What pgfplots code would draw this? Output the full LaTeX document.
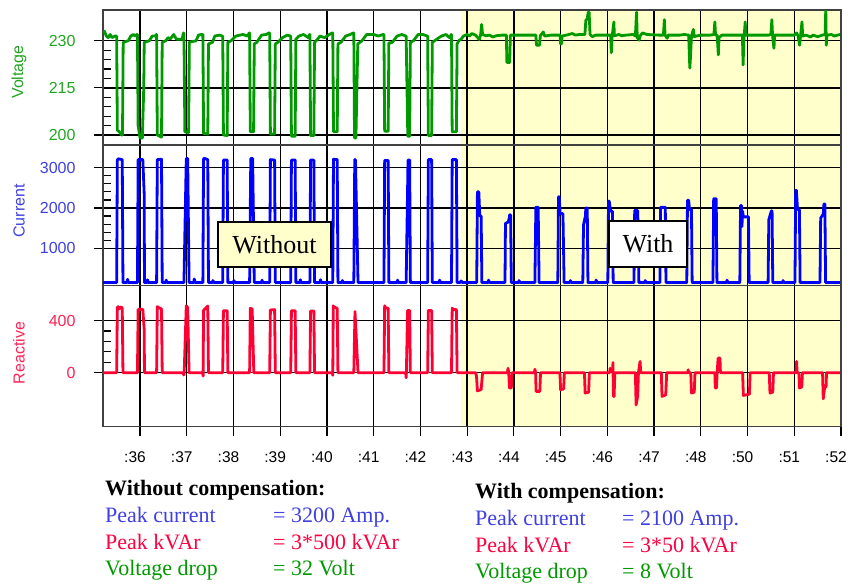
\documentclass[border=0pt]{standalone}
\usepackage{pgfplots}
\pgfplotsset{compat=1.18}
\usepackage{fontspec}
\setmainfont{Liberation Serif}
\newfontfamily\arial{Liberation Sans}
\definecolor{vgreen}{RGB}{0,153,0}
\definecolor{vlabel}{RGB}{34,165,34}
\definecolor{cblue}{RGB}{0,0,255}
\definecolor{clabel}{RGB}{64,64,224}
\definecolor{rred}{RGB}{255,0,51}
\definecolor{rlabel}{RGB}{255,34,85}
\definecolor{byellow}{RGB}{255,255,204}
\definecolor{tblue}{RGB}{64,64,224}
\definecolor{tred}{RGB}{255,0,64}
\definecolor{tgreen}{RGB}{0,153,0}
\pgfplotsset{
  panel/.style={
    scale only axis, width=738bp, xmin=35.208, xmax=51.0,
    xtick={36,...,51}, grid=major,
    major grid style={black, line width=1.3bp},
    axis line style={draw=black!75, line width=1.5bp},
    tick align=outside, major tick length=9bp, minor tick length=8bp,
    tick style={black, line width=1.2bp},
    minor tick style={xshift=8bp},
    ytick pos=left, xtick pos=bottom,
    set layers, anchor=north west,
    yticklabel style={font=\arial\fontsize{16bp}{18bp}\selectfont, xshift=-15bp},
    xticklabel style={font=\arial\fontsize{15.5bp}{18bp}\selectfont, yshift=-13bp, xshift=-5bp},
    /pgf/number format/assume math mode=true,
    /pgf/number format/1000 sep={},
    scaled y ticks=false,
  },
  sig/.style={line width=2.8bp, line join=round},
}
\begin{document}
\begin{tikzpicture}[x=1bp,y=1bp]

% Voltage
\begin{axis}[panel, at={(103bp,-10bp)}, height=135bp,
  ymin=196.8, ymax=239.8, ytick={200,215,230}, minor y tick num=4,
  xticklabels={}, xtick style={draw=none},
  yticklabel style={text=vlabel}]
\addplot[fill=byellow, draw=none, on layer=axis background] coordinates {(42.87,196.8) (51,196.8) (51,239.8) (42.87,239.8) (42.87,196.8)};
\addplot[sig, vgreen] coordinates {
(35.21,232.5)(35.24,233)(35.28,231.5)(35.32,231)(35.36,232)(35.40,231)(35.46,231.5)
(35.50,231.5)(35.515,201.5)(35.56,201)(35.60,200)(35.625,200)(35.64,229.5)
(35.70,229.8)(35.75,230)(35.80,231.5)(35.86,232)(35.90,231.5)(35.935,232)
(35.945,232)(35.96,203)(36.0,199)(36.05,199)(36.08,215)(36.09,229.5)
(36.20,230)(36.26,231.5)(36.33,231.5)(36.35,232)
(36.355,232)(36.37,200)(36.46,199.3)(36.475,229.5)
(36.55,230)(36.60,231)(36.65,230.6)(36.72,232)(36.78,230.5)(36.90,230.5)(36.93,232.5)
(36.94,232.5)(36.96,201)(37.04,200.8)(37.055,229.5)
(37.10,229.7)(37.20,230)(37.25,231.8)(37.32,232)
(37.345,232)(37.36,200.5)(37.45,200.3)(37.465,229)
(37.55,229.5)(37.60,231.5)(37.70,231.8)(37.76,231.5)
(37.77,231.5)(37.785,200)(37.865,199.8)(37.88,229.5)
(37.95,230)(38.05,231.5)(38.20,232)(38.30,231.5)(38.34,232.5)
(38.345,232.5)(38.36,201)(38.43,201)(38.445,229)
(38.50,229.5)(38.60,231.8)(38.70,232)(38.76,232.5)
(38.775,232.5)(38.79,200.3)(38.88,200.3)(38.895,229)
(38.95,229.5)(39.05,231)(39.15,231.8)(39.22,231.5)
(39.225,231.5)(39.24,199.6)(39.32,199.6)(39.335,230.5)
(39.40,231.5)(39.50,232)(39.60,231)(39.63,232)
(39.635,232)(39.65,199.8)(39.72,199.8)(39.735,229.5)
(39.80,230.5)(39.85,231.5)(39.95,231)(40.05,232)(40.12,232.5)
(40.125,232.5)(40.14,201)(40.22,201)(40.235,229)
(40.30,229.5)(40.40,231.5)(40.50,232)(40.57,232.5)
(40.575,232.5)(40.59,199)(40.62,199)(40.66,229)
(40.75,230)(40.85,232)(41.00,232)(41.10,231.5)(41.20,232)
(41.22,232)(41.235,201.2)(41.31,201.2)(41.325,229.3)
(41.40,229.5)(41.50,231.5)(41.60,232)(41.69,231.5)
(41.695,231.5)(41.73,199.6)(41.77,199.6)(41.785,229.5)
(41.85,230)(41.95,232)(42.05,232)(42.15,231.5)
(42.155,231.5)(42.17,199.8)(42.24,199.8)(42.255,229.5)
(42.35,230.5)(42.45,231.5)(42.55,232)(42.62,231)(42.66,232)
(42.665,232)(42.68,201)(42.77,201)(42.785,229)
(42.82,230)(42.87,230.5)(42.92,231.5)(43.00,232)(43.05,231.5)(43.10,232.3)(43.18,231.8)
(43.26,230.4)(43.29,232)(43.31,235.2)(43.33,232)(43.40,231.6)(43.48,231.8)(43.55,231.2)(43.62,231.6)(43.75,231.8)(43.84,231.8)
(43.85,223.1)(43.91,223.1)(43.925,231.8)(44.1,231.8)(44.3,231.8)(44.47,231.8)
(44.485,228.6)(44.55,228.6)(44.565,231.6)(44.63,232.8)(44.66,231.5)(44.80,231.8)(44.99,231.8)
(45.00,229)(45.02,229)(45.03,231.5)(45.15,231.9)(45.25,232.3)(45.32,231.8)(45.40,232)(45.52,232)
(45.54,236.5)(45.57,237)(45.59,239.1)(45.61,239.1)(45.63,232)(45.68,231.3)(45.75,231.8)(46.00,231.8)(46.07,231.8)
(46.085,226.2)(46.10,231)(46.14,236)(46.15,231.6)(46.25,232)(46.30,231.6)(46.40,231.8)(46.55,232)(46.60,231.5)
(46.625,239.1)(46.64,231)(46.68,230.2)(46.70,231.5)(46.75,232.5)(46.85,232)(47.10,231.8)(47.20,231.8)
(47.22,236.7)(47.235,231.8)(47.28,230.8)(47.30,231.8)(47.55,231.8)(47.65,232)(47.74,231.8)
(47.765,221.3)(47.78,225)(47.80,231.5)(47.84,233.6)(47.86,231.3)(47.90,231.5)(48.00,231.8)(48.20,231.8)(48.28,232)
(48.30,236)(48.315,231.8)(48.35,231.8)(48.375,225.5)(48.39,231)(48.45,231.8)(48.80,231.8)(48.89,231.8)
(48.905,222.3)(48.92,230)(48.95,236)(48.965,231.8)(49.05,231.8)(49.45,231.8)(49.50,232)
(49.52,236.7)(49.535,231.8)(49.565,227.6)(49.58,231.8)(49.80,231.8)(50.00,231.8)(50.05,232.5)(50.08,231.6)
(50.115,228.6)(50.13,231)(50.165,236)(50.18,231.5)(50.25,231.8)(50.35,231.2)(50.40,231.8)(50.50,231.3)(50.60,231.8)(50.66,232)
(50.674,240.2)(50.685,228.6)(50.70,231.8)(50.80,232)(50.85,231.5)(50.98,232)
};
\end{axis}

% Current
\begin{axis}[panel, at={(103bp,-145bp)}, height=140.7bp,
  ymin=72, ymax=3563, ytick={1000,2000,3000}, minor y tick num=4,
  xticklabels={}, xtick style={draw=none},
  yticklabel style={text=clabel}]
\addplot[fill=byellow, draw=none, on layer=axis background] coordinates {(42.87,72) (51,72) (51,3563) (42.87,3563) (42.87,72)};
\addplot[sig, cblue] coordinates {
(35.21,150)(35.50,150)(35.515,3180)(35.53,3220)(35.62,3200)(35.635,150)
(35.72,150)(35.735,230)(35.75,150)
(35.945,150)(35.96,3200)(36.06,3200)(36.09,2330)(36.095,150)
(36.15,150)(36.16,220)(36.18,150)
(36.355,150)(36.37,3200)(36.46,3210)(36.475,150)
(36.55,150)(36.56,210)(36.58,150)
(36.94,150)(36.99,3230)(37.02,3230)(37.05,150)
(37.15,150)(37.16,240)(37.18,150)
(37.345,150)(37.36,3220)(37.38,3230)(37.45,3200)(37.465,150)
(37.55,150)(37.56,200)(37.58,150)
(37.77,150)(37.785,3190)(37.865,3190)(37.88,150)
(38.0,150)(38.01,200)(38.03,150)
(38.345,150)(38.37,3230)(38.41,3230)(38.445,150)
(38.60,150)(38.61,210)(38.63,150)
(38.775,150)(38.79,3200)(38.88,3190)(38.895,150)
(39.225,150)(39.24,3190)(39.32,3190)(39.335,150)
(39.42,150)(39.43,220)(39.45,150)
(39.635,150)(39.65,3190)(39.72,3190)(39.735,150)
(39.85,150)(39.86,220)(39.88,150)
(40.125,150)(40.14,3210)(40.22,3200)(40.235,150)
(40.32,150)(40.33,200)(40.35,150)
(40.575,150)(40.595,3200)(40.61,3200)(40.665,150)
(41.22,150)(41.235,3180)(41.31,3180)(41.325,150)
(41.50,150)(41.51,210)(41.53,150)
(41.695,150)(41.735,3190)(41.77,3190)(41.785,150)
(42.155,150)(42.17,3200)(42.24,3200)(42.255,150)
(42.40,150)(42.41,210)(42.43,150)
(42.665,150)(42.68,3200)(42.77,3200)(42.785,150)
(42.85,150)(42.87,190)(42.90,150)
(43.205,150)(43.22,2400)(43.25,2400)(43.27,1800)(43.30,1800)(43.315,150)
(43.45,150)(43.46,210)(43.48,150)
(43.81,150)(43.82,1620)(43.88,1650)(43.90,1750)(43.91,1830)(43.93,1830)(43.945,150)
(44.10,150)(44.11,200)(44.13,150)
(44.45,150)(44.47,2020)(44.52,2020)(44.54,150)
(44.94,150)(44.955,2280)(44.97,2280)(44.99,1860)(45.05,1860)(45.075,150)
(45.20,150)(45.21,200)(45.23,150)
(45.475,150)(45.49,1580)(45.53,1800)(45.54,2000)(45.57,2000)(45.585,150)
(45.75,150)(45.76,210)(45.78,150)
(46.01,150)(46.025,2170)(46.04,2170)(46.07,1920)(46.11,1920)(46.125,150)
(46.57,150)(46.585,1940)(46.65,1940)(46.675,150)
(46.80,150)(46.81,200)(46.83,150)
(47.125,150)(47.14,2020)(47.24,2020)(47.255,150)
(47.70,150)(47.715,2190)(47.74,2190)(47.76,1960)(47.80,1960)(47.815,150)
(48.26,150)(48.275,2230)(48.33,2230)(48.345,150)
(48.55,150)(48.56,210)(48.58,150)
(48.835,150)(48.85,2060)(48.87,2060)(48.88,1540)(48.895,1920)(48.91,1780)(49.02,1780)(49.035,150)
(49.44,150)(49.455,1710)(49.51,1930)(49.525,1930)(49.54,150)
(49.75,150)(49.76,200)(49.78,150)
(50.015,150)(50.03,2440)(50.045,2440)(50.07,1960)(50.11,1960)(50.125,150)
(50.55,150)(50.565,1750)(50.62,1850)(50.635,2100)(50.655,2100)(50.67,150)
(50.98,150)
};
\end{axis}

% Reactive
\begin{axis}[panel, at={(103bp,-285.7bp)}, height=140.8bp,
  ymin=-414, ymax=669, ytick={0,400}, minor y tick num=4,
  xticklabels={:36,:37,:38,:39,:40,:41,:42,:43,:44,:45,:46,:47,:48,:50,:51,:52},
  yticklabel style={text=rlabel}]
\addplot[fill=byellow, draw=none, on layer=axis background] coordinates {(42.87,-414) (51,-414) (51,669) (42.87,669) (42.87,-414)};
\addplot[sig, rred] coordinates {
(35.21,0)(35.50,0)(35.515,500)(35.53,508)(35.55,490)(35.58,505)(35.62,500)(35.635,0)
(35.945,0)(35.96,487)(36.06,487)(36.09,328)(36.095,0)
(36.355,0)(36.37,508)(36.40,500)(36.46,490)(36.475,0)
(36.925,0)(36.935,-18)(36.945,0)(36.99,515)(37.02,500)(37.05,0)
(37.34,0)(37.35,-26)(37.36,480)(37.43,505)(37.45,513)(37.465,0)
(37.77,0)(37.785,477)(37.865,477)(37.88,0)
(38.345,0)(38.36,495)(38.40,490)(38.435,0)
(38.775,0)(38.79,482)(38.88,485)(38.895,0)
(39.225,0)(39.24,477)(39.32,477)(39.335,0)
(39.635,0)(39.65,475)(39.72,475)(39.735,0)
(40.115,0)(40.125,-20)(40.135,515)(40.15,505)(40.22,495)(40.235,0)
(40.575,0)(40.60,470)(40.665,0)
(41.22,0)(41.235,515)(41.25,500)(41.31,495)(41.325,0)
(41.685,0)(41.695,-39)(41.70,0)(41.725,478)(41.77,478)(41.785,0)
(42.155,0)(42.17,478)(42.24,478)(42.255,0)
(42.665,0)(42.68,497)(42.70,485)(42.77,485)(42.785,0)
(43.18,0)(43.20,-26)(43.22,-140)(43.30,-130)(43.33,0)
(43.86,0)(43.875,34)(43.89,0)(43.905,-118)(43.945,-118)(43.96,0)
(44.44,0)(44.45,26)(44.465,0)(44.475,-144)(44.555,-144)(44.57,0)
(44.985,0)(45.00,-131)(45.065,-125)(45.08,0)
(45.51,0)(45.525,-157)(45.60,-150)(45.615,0)
(46.05,0)(46.06,34)(46.07,10)(46.115,20)(46.12,78)(46.13,-183)(46.145,-183)(46.16,0)
(46.60,0)(46.615,-248)(46.65,-180)(46.665,0)(46.70,86)(46.715,0)
(47.155,0)(47.17,-183)(47.25,-170)(47.27,0)
(47.72,0)(47.73,22)(47.74,0)(47.785,0)(47.80,-157)(47.86,-150)(47.875,0)
(48.30,0)(48.31,-118)(48.335,-118)(48.35,0)(48.37,112)(48.41,112)(48.42,0)
(48.895,0)(48.91,-175)(49.04,-165)(49.055,0)
(49.465,0)(49.48,-157)(49.54,-150)(49.555,0)
(50.04,0)(50.05,86)(50.06,0)(50.10,0)(50.11,-118)(50.16,-110)(50.175,0)
(50.605,0)(50.62,-201)(50.65,-112)(50.68,-112)(50.69,0)
(50.98,0)
};
\end{axis}

% axis titles
\node[rotate=90, text=vlabel, font=\arial\fontsize{16bp}{18bp}\selectfont] at (19bp,-72bp) {Voltage};
\node[rotate=90, text=clabel, font=\arial\fontsize{16bp}{18bp}\selectfont] at (19bp,-211bp) {Current};
\node[rotate=90, text=rlabel, font=\arial\fontsize{16bp}{18bp}\selectfont] at (19bp,-353bp) {Reactive};

% boxes
\node[draw=black, line width=1.5bp, fill=byellow, minimum width=113bp, minimum height=45bp, inner sep=0pt, font=\fontsize{26bp}{28bp}\selectfont] at (274.5bp,-244.5bp) {Without};
\node[draw=black, line width=1.5bp, fill=white, minimum width=78bp, minimum height=46bp, inner sep=0pt, font=\fontsize{26bp}{28bp}\selectfont] at (648bp,-244bp) {With};

% bottom text
\begin{scope}[every node/.style={anchor=base west, inner sep=0pt, font=\fontsize{22bp}{26bp}\selectfont}]
\node at (105bp,-495bp) {\textbf{Without compensation:}};
\node[text=tblue] at (105bp,-522bp) {Peak current};
\node[text=tblue] at (273bp,-522bp) {= 3200 Amp.};
\node[text=tred] at (105bp,-549bp) {Peak kVAr};
\node[text=tred] at (273bp,-549bp) {= 3*500 kVAr};
\node[text=tgreen] at (105bp,-575bp) {Voltage drop};
\node[text=tgreen] at (273bp,-575bp) {= 32 Volt};
\node at (475bp,-498bp) {\textbf{With compensation:}};
\node[text=tblue] at (475bp,-525bp) {Peak current};
\node[text=tblue] at (622bp,-525bp) {= 2100 Amp.};
\node[text=tred] at (475bp,-552bp) {Peak kVAr};
\node[text=tred] at (622bp,-552bp) {= 3*50 kVAr};
\node[text=tgreen] at (475bp,-578bp) {Voltage drop};
\node[text=tgreen] at (622bp,-578bp) {= 8 Volt};
\end{scope}
\pgfresetboundingbox
\path[use as bounding box] (0bp,0bp) rectangle (848bp,-584bp);
\end{tikzpicture}
\end{document}
